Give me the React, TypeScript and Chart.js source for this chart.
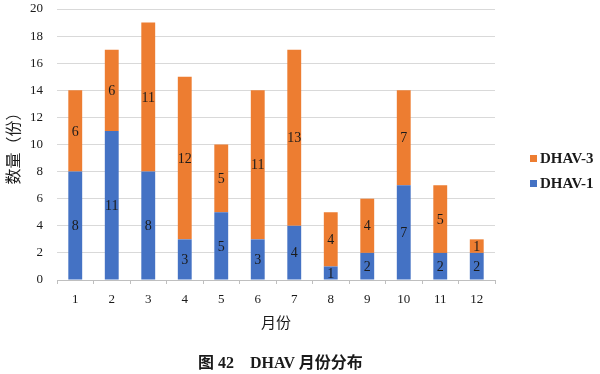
import React, { useEffect, useRef } from "react";
import { Chart, registerables } from "chart.js";

Chart.register(...registerables);

const months = ["1", "2", "3", "4", "5", "6", "7", "8", "9", "10", "11", "12"];
const dhav1 = [8, 11, 8, 3, 5, 3, 4, 1, 2, 7, 2, 2];
const dhav3 = [6, 6, 11, 12, 5, 11, 13, 4, 4, 7, 5, 1];
const yTitle = "数量（份）";
const xTitle = "月份";
const caption = "图 42\u00a0\u00a0\u00a0\u00a0DHAV 月份分布";

const BLUE = "#4472C4";
const ORANGE = "#ED7D31";
const SERIF = "'Liberation Serif', 'Times New Roman', serif";

const labelPlugin = {
  id: "segLabels",
  afterDatasetsDraw(chart: any) {
    const ctx = chart.ctx;
    ctx.save();
    ctx.font = `14px ${SERIF}`;
    ctx.fillStyle = "#1a1a1a";
    ctx.textAlign = "center";
    ctx.textBaseline = "middle";
    chart.data.datasets.forEach((ds: any, di: number) => {
      const meta = chart.getDatasetMeta(di);
      meta.data.forEach((el: any, i: number) => {
        const v = ds.data[i];
        if (!v) return;
        const cy = (el.y + el.base) / 2;
        ctx.fillText(String(v), el.x, cy + 1);
      });
    });
    ctx.restore();
  },
};

const legendPlugin = {
  id: "customLegend",
  afterDraw(chart: any) {
    const ctx = chart.ctx;
    const items = [
      { text: "DHAV-3", color: ORANGE, y: 158.5 },
      { text: "DHAV-1", color: BLUE, y: 183.5 },
    ];
    ctx.save();
    ctx.font = `bold 15px ${SERIF}`;
    ctx.textBaseline = "middle";
    ctx.textAlign = "left";
    items.forEach((it) => {
      ctx.fillStyle = it.color;
      ctx.fillRect(530, it.y - 3.5, 7, 7);
      ctx.fillStyle = "#1a1a1a";
      ctx.fillText(it.text, 540, it.y + 1);
    });
    ctx.restore();
  },
};

export default function App() {
  const ref = useRef<HTMLCanvasElement>(null);
  useEffect(() => {
    document.body.style.margin = "0";
    const chart = new Chart(ref.current!, {
      type: "bar",
      data: {
        labels: months,
        datasets: [
          { label: "DHAV-1", data: dhav1, backgroundColor: BLUE, barPercentage: 0.76, categoryPercentage: 0.5 },
          { label: "DHAV-3", data: dhav3, backgroundColor: ORANGE, barPercentage: 0.76, categoryPercentage: 0.5 },
        ],
      },
      options: {
        animation: false,
        responsive: false,
        maintainAspectRatio: false,
        layout: { padding: { left: 0, right: 105, top: 9, bottom: 34 } },
        plugins: { legend: { display: false }, tooltip: { enabled: false } },
        scales: {
          x: {
            stacked: true,
            grid: { display: true, drawOnChartArea: false, offset: true, tickLength: 4, color: "#BFBFBF" },
            border: { color: "#BFBFBF" },
            ticks: { font: { family: SERIF, size: 13 }, color: "#1a1a1a", padding: 8 },
            title: {
              display: true,
              text: xTitle,
              font: { family: "'Noto Sans CJK SC', sans-serif", size: 15 },
              color: "#1a1a1a",
              padding: { top: 0, bottom: 9 },
            },
            afterFit(scale: any) {
              scale.height = 60;
              scale.paddingLeft = 0;
              scale.paddingRight = 0;
            },
          },
          y: {
            stacked: true,
            min: 0,
            max: 20,
            ticks: { stepSize: 2, font: { family: SERIF, size: 13 }, color: "#1a1a1a", padding: 14 },
            grid: { color: "#D9D9D9", drawTicks: false },
            border: { display: false },
            title: {
              display: true,
              text: yTitle,
              font: { family: "'Noto Sans CJK SC', sans-serif", size: 16 },
              color: "#1a1a1a",
              padding: { top: 3, bottom: 0 },
            },
            afterFit(scale: any) {
              scale.width = 57;
              scale.paddingTop = 0;
              scale.paddingBottom = 0;
            },
          },
        },
      },
      plugins: [labelPlugin, legendPlugin],
    });
    return () => chart.destroy();
  }, []);
  return (
    <div style={{ position: "relative", width: 600, height: 374, background: "#fff" }}>
      <canvas ref={ref} width={600} height={374} style={{ display: "block" }} />
      <div
        style={{
          position: "absolute",
          left: 198,
          top: 353,
          fontFamily: "'Liberation Serif', 'Noto Sans CJK SC', serif",
          fontWeight: "bold",
          fontSize: 16,
          lineHeight: "20px",
          color: "#1a1a1a",
          whiteSpace: "pre",
        }}
      >
        {caption}
      </div>
    </div>
  );
}
